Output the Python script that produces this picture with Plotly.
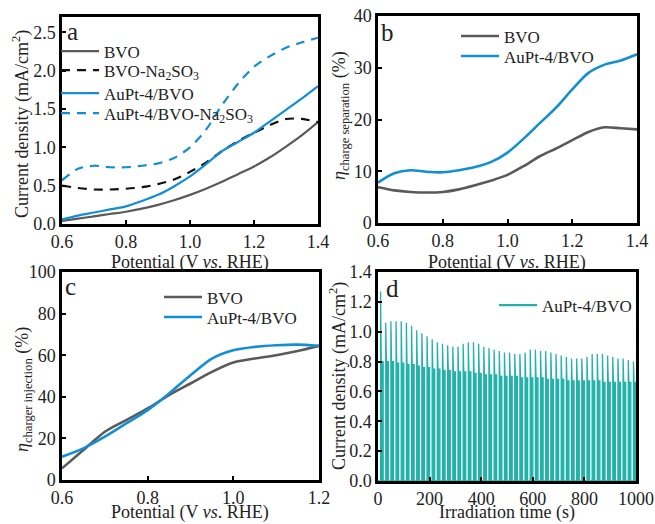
import plotly.graph_objects as go

FONT = "Liberation Serif, Times New Roman, serif"
GRAY = "#5a5a5a"
BLUE = "#128fd4"
TEAL = "#23b2aa"
BLACK = "#111111"

# ---------------- Panel a ----------------
pot_a = [0.6, 0.65, 0.7, 0.75, 0.8, 0.85, 0.9, 0.95, 1.0, 1.05, 1.1, 1.15, 1.2, 1.25, 1.3, 1.35, 1.4]
bvo_a = [0.04, 0.07, 0.10, 0.13, 0.16, 0.20, 0.25, 0.31, 0.38, 0.46, 0.55, 0.65, 0.75, 0.87, 1.01, 1.16, 1.33]
bvo_na_a = [0.50, 0.47, 0.45, 0.45, 0.46, 0.48, 0.52, 0.58, 0.68, 0.80, 0.95, 1.08, 1.19, 1.29, 1.37, 1.37, 1.33]
aupt_a = [0.06, 0.11, 0.15, 0.19, 0.23, 0.30, 0.38, 0.49, 0.62, 0.78, 0.95, 1.07, 1.19, 1.34, 1.49, 1.64, 1.80]
aupt_na_a = [0.57, 0.72, 0.76, 0.74, 0.74, 0.76, 0.79, 0.86, 1.00, 1.23, 1.55, 1.83, 2.05, 2.19, 2.30, 2.37, 2.43]

# ---------------- Panel b ----------------
pot_b = [0.6, 0.65, 0.7, 0.75, 0.8, 0.85, 0.9, 0.95, 1.0, 1.05, 1.1, 1.15, 1.2, 1.25, 1.3, 1.35, 1.4]
bvo_b = [6.9, 6.3, 6.0, 5.9, 6.0, 6.5, 7.3, 8.2, 9.3, 11.0, 12.9, 14.4, 16.0, 17.6, 18.5, 18.3, 18.1]
aupt_b = [7.8, 9.6, 10.2, 9.9, 9.8, 10.2, 10.8, 11.8, 13.6, 16.3, 19.3, 22.3, 25.8, 29.0, 30.6, 31.4, 32.6]

# ---------------- Panel c ----------------
pot_c = [0.6, 0.65, 0.7, 0.75, 0.8, 0.85, 0.9, 0.95, 1.0, 1.05, 1.1, 1.15, 1.2]
bvo_c = [5.6, 14.4, 23.2, 28.8, 34.4, 40.8, 46.4, 52.0, 56.5, 58.4, 60.0, 62.0, 64.5]
aupt_c = [11.2, 15.2, 20.8, 27.2, 33.6, 41.6, 50.4, 58.4, 62.4, 64.0, 64.8, 65.1, 64.5]

# ---------------- Panel d (chopped light, 20 s period) ----------------
light_on_s = [10 + 20 * k for k in range(50)]
peak_d = [1.27, 1.06, 1.07, 1.07, 1.07, 1.06, 1.04, 1.01, 0.99, 0.97,
          0.95, 0.93, 0.92, 0.91, 0.90, 0.90, 0.92, 0.93, 0.93, 0.92,
          0.90, 0.89, 0.88, 0.87, 0.86, 0.86, 0.85, 0.85, 0.86, 0.88,
          0.88, 0.87, 0.87, 0.86, 0.85, 0.84, 0.83, 0.82, 0.82, 0.82,
          0.83, 0.85, 0.85, 0.85, 0.84, 0.83, 0.82, 0.82, 0.81, 0.80]
plateau_d = [0.80, 0.80, 0.80, 0.79, 0.79, 0.78, 0.78, 0.77, 0.76, 0.76,
             0.75, 0.75, 0.74, 0.74, 0.73, 0.73, 0.73, 0.73, 0.72, 0.72,
             0.71, 0.71, 0.71, 0.70, 0.70, 0.70, 0.70, 0.69, 0.69, 0.69,
             0.69, 0.69, 0.68, 0.68, 0.68, 0.68, 0.67, 0.67, 0.67, 0.67,
             0.67, 0.67, 0.67, 0.66, 0.66, 0.66, 0.66, 0.66, 0.66, 0.66]
on_duration_s = 10

t_d, j_d = [0.0], [0.0]
for t0, pk, pl in zip(light_on_s, peak_d, plateau_d):
    t_d += [t0, t0, t0 + 1.2, t0 + 2.5, t0 + on_duration_s, t0 + on_duration_s]
    j_d += [0.0, pk, pl + 0.05, pl, pl, 0.0]

fig = go.Figure()

def add(x, y, name, color, xa, ya, legend, dash="solid", width=2.2):
    fig.add_trace(go.Scatter(x=x, y=y, name=name, mode="lines",
                             line=dict(color=color, width=width, dash=dash, shape="spline", smoothing=0.8),
                             xaxis=xa, yaxis=ya, legend=legend))

add(pot_a, bvo_a, "BVO", GRAY, "x", "y", "legend")
add(pot_a, bvo_na_a, "BVO-Na<sub>2</sub>SO<sub>3</sub>", BLACK, "x", "y", "legend5", dash="9px,7px")
add(pot_a, aupt_a, "AuPt-4/BVO", BLUE, "x", "y", "legend6")
add(pot_a, aupt_na_a, "AuPt-4/BVO-Na<sub>2</sub>SO<sub>3</sub>", BLUE, "x", "y", "legend7", dash="9px,7px")

add(pot_b, bvo_b, "BVO", GRAY, "x2", "y2", "legend2", width=2.6)
add(pot_b, aupt_b, "AuPt-4/BVO", BLUE, "x2", "y2", "legend8", width=2.6)

add(pot_c, bvo_c, "BVO", GRAY, "x3", "y3", "legend3", width=2.6)
add(pot_c, aupt_c, "AuPt-4/BVO", BLUE, "x3", "y3", "legend9", width=2.6)

# chopped photocurrent (filled) + a line-only legend key like the reference
fig.add_trace(go.Scatter(x=t_d, y=j_d, name="AuPt-4/BVO", mode="lines",
                         line=dict(color=TEAL, width=1.3), fill="tozeroy", fillcolor=TEAL,
                         xaxis="x4", yaxis="y4", showlegend=False))
fig.add_trace(go.Scatter(x=[None], y=[None], name="AuPt-4/BVO", mode="lines",
                         line=dict(color=TEAL, width=2.2), xaxis="x4", yaxis="y4", legend="legend4"))

W, H = 655, 524
def px(x): return x / W
def py(y): return 1 - y / H

axis_common = dict(showline=True, linecolor="black", linewidth=2.5, mirror=True,
                   ticks="inside", ticklen=4, tickwidth=2, tickcolor="black",
                   showgrid=False, zeroline=False, automargin=False,
                   tickfont=dict(family=FONT, size=18, color="#222"))

lay = dict(
    width=W, height=H, margin=dict(l=0, r=0, t=0, b=0, pad=0, autoexpand=False),
    paper_bgcolor="white", plot_bgcolor="white", showlegend=True,
    font=dict(family=FONT, size=17, color="#222"),
    xaxis=dict(domain=[px(62), px(318)], range=[0.6, 1.4], dtick=0.2, tickformat=".1f", anchor="y", **axis_common),
    yaxis=dict(domain=[py(224), py(17)], range=[0, 2.7], dtick=0.5, tickformat=".1f", anchor="x", **axis_common),
    xaxis2=dict(domain=[px(378), px(637)], range=[0.6, 1.4], dtick=0.2, tickformat=".1f", anchor="y2", **axis_common),
    yaxis2=dict(domain=[py(223), py(16)], range=[0, 40], dtick=10, anchor="x2", **axis_common),
    xaxis3=dict(domain=[px(62), px(319)], range=[0.6, 1.2], dtick=0.2, tickformat=".1f", anchor="y3", **axis_common),
    yaxis3=dict(domain=[py(480), py(272)], range=[0, 100], dtick=20, anchor="x3", **axis_common),
    xaxis4=dict(domain=[px(378), px(636)], range=[0, 1000], dtick=200, anchor="y4", **axis_common),
    yaxis4=dict(domain=[py(481), py(272)], range=[0, 1.4], dtick=0.2, tickformat=".1f", anchor="x4", **axis_common),
)

leg_common = dict(bgcolor="rgba(0,0,0,0)", borderwidth=0, xanchor="left", yanchor="top",
                  font=dict(family=FONT, size=17, color="#222"), itemwidth=38, tracegroupgap=0)
# one legend per entry so each row sits where the reference puts it (x of line start, y of row centre)
legend_rows = {
    "legend": (56, 52), "legend5": (56, 71), "legend6": (56, 94), "legend7": (56, 114),
    "legend2": (456, 37), "legend8": (456, 57),
    "legend3": (159, 298), "legend9": (159, 318),
    "legend4": (494, 306),
}
for key, (lx, ly) in legend_rows.items():
    lay[key] = dict(x=px(lx), y=py(ly - 18.5), **leg_common)

fig.update_layout(**lay)

ann = []
def label(x, y, text, size=18, angle=0):
    ann.append(dict(x=px(x), y=py(y), xref="paper", yref="paper", text=text, showarrow=False,
                    xanchor="center", yanchor="middle", textangle=angle,
                    font=dict(family=FONT, size=size, color="#222")))

pot_title = "Potential (V <i>vs</i>. RHE)"
label(190, 262, pot_title)
label(507, 262, pot_title)
label(190, 512, pot_title)
label(507, 512, "Irradiation time (s)")
label(21, 124, "Current density (mA/cm<sup>2</sup>)", angle=-90)
label(340, 116, "<i>η</i><sub>charge separation</sub> (%)", angle=-90)
label(23, 390, "<i>η</i><sub>charger injection</sub> (%)", angle=-90)
label(338, 376, "Current density (mA/cm<sup>2</sup>)", angle=-90)

label(72, 31, "a", size=25)
label(387, 33, "b", size=25)
label(70, 286, "c", size=25)
label(392, 288, "d", size=25)

fig.update_layout(annotations=ann)
fig.write_html("out.html", config={"displayModeBar": False},
               post_script="document.body.style.margin='0px';")
